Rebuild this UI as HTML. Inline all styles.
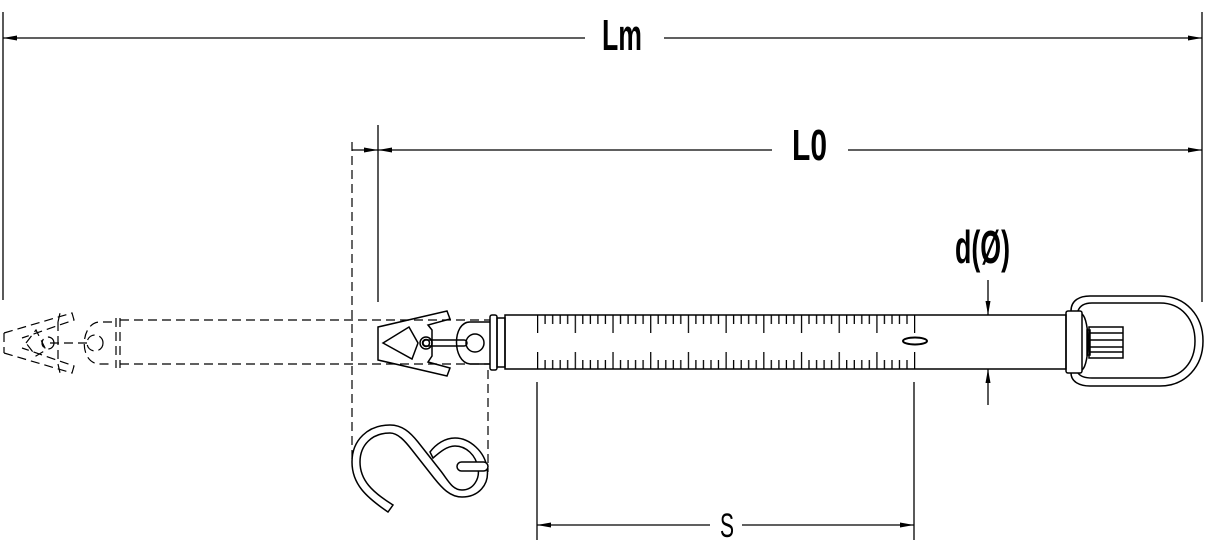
<!DOCTYPE html>
<html><head><meta charset="utf-8"><style>
html,body{margin:0;padding:0;background:#fff;}
svg{display:block}
text{font-family:"Liberation Sans Narrow","Liberation Sans",sans-serif;}
</style></head><body>
<svg width="1210" height="548" viewBox="0 0 1210 548" xmlns="http://www.w3.org/2000/svg">
<defs>
<pattern id="tt" x="537" y="0" width="37.7" height="548" patternUnits="userSpaceOnUse">
<g stroke="#000" stroke-width="1.3">
<line x1="0.6" y1="315" x2="0.6" y2="333"/>
<line x1="8.1" y1="315" x2="8.1" y2="324"/>
<line x1="15.7" y1="315" x2="15.7" y2="324"/>
<line x1="23.2" y1="315" x2="23.2" y2="324"/>
<line x1="30.7" y1="315" x2="30.7" y2="324"/>
<line x1="0.6" y1="369" x2="0.6" y2="352"/>
<line x1="8.1" y1="369" x2="8.1" y2="360"/>
<line x1="15.7" y1="369" x2="15.7" y2="360"/>
<line x1="23.2" y1="369" x2="23.2" y2="360"/>
<line x1="30.7" y1="369" x2="30.7" y2="360"/>
</g>
</pattern>
</defs>
<g fill="none" stroke="#000" stroke-width="1.3">
<line x1="3" y1="12" x2="3" y2="300"/>
<line x1="1202" y1="12" x2="1202" y2="302"/>
<line x1="378" y1="125" x2="378" y2="302"/>
<line x1="3" y1="38" x2="585" y2="38"/>
<line x1="664" y1="38" x2="1202" y2="38"/>
<line x1="352" y1="150" x2="772" y2="150"/>
<line x1="848" y1="150" x2="1202" y2="150"/>
<line x1="537" y1="382" x2="537" y2="540"/>
<line x1="914" y1="382" x2="914" y2="540"/>
<line x1="537" y1="525" x2="710" y2="525"/>
<line x1="742" y1="525" x2="914" y2="525"/>
<line x1="988" y1="280" x2="988" y2="315"/>
<line x1="988" y1="369" x2="988" y2="405"/>
</g>
<g fill="#000">
<polygon points="3,38 17,35.5 17,40.5"/>
<polygon points="1202,38 1188,35.5 1188,40.5"/>
<polygon points="378,150 392,147.5 392,152.5"/>
<polygon points="378,150 364,147.5 364,152.5"/>
<polygon points="1202,150 1188,147.5 1188,152.5"/>
<polygon points="537,525 551,522.5 551,527.5"/>
<polygon points="914,525 900,522.5 900,527.5"/>
<polygon points="988,315 985.5,301 990.5,301"/>
<polygon points="988,369 985.5,383 990.5,383"/>
</g>
<text x="602" y="50" font-size="44" font-weight="bold" textLength="40" lengthAdjust="spacingAndGlyphs">Lm</text>
<text x="792" y="160" font-size="44" font-weight="bold" textLength="35" lengthAdjust="spacingAndGlyphs">L0</text>
<text x="955" y="263" font-size="46" font-weight="bold" textLength="55" lengthAdjust="spacingAndGlyphs">d(Ø)</text>
<text x="720" y="537" font-size="34" textLength="14" lengthAdjust="spacingAndGlyphs">S</text>

<g fill="none" stroke="#000" stroke-width="1.2" stroke-dasharray="9,5">
<line x1="120" y1="320" x2="490" y2="320"/>
<line x1="120" y1="364" x2="490" y2="364"/>
<line x1="352" y1="142" x2="352" y2="460"/>
<line x1="488" y1="370" x2="488" y2="472"/>
<path d="M4,333 L72,313 L74,320 L22,338"/>
<path d="M4,353 L72,373 L74,366 L22,348"/>
<path d="M4,333 L4,353"/>
<path d="M26,343 L36,330 L46,350 L36,356 Z"/>
<circle cx="48" cy="343" r="6"/>
<line x1="50" y1="343" x2="92" y2="343"/>
<path d="M112,322 L100,322 C80,322 78,364 100,364 L112,364"/>
<circle cx="95" cy="343" r="8"/>
<path d="M116,318 L116,368 M120,318 L120,368"/>
<path d="M58,322 L60,313 M58,364 L60,373 M58,322 L58,364"/>
</g>

<g fill="none" stroke="#000" stroke-width="1.5">
<rect x="505" y="315" width="561" height="54"/>
<rect x="490" y="315" width="7" height="55" rx="2"/>
<rect x="497" y="318" width="8" height="49"/>
<ellipse cx="915" cy="341" rx="12" ry="3.5" stroke-width="2"/>
<rect x="1066" y="311" width="16" height="62" rx="2"/>
<path d="M1082,314 C1090,320 1090,364 1082,370"/>
<rect x="1089" y="327" width="34" height="31"/>
<rect x="1087" y="330" width="3" height="25"/>
<line x1="1090" y1="333" x2="1123" y2="333"/>
<line x1="1090" y1="340" x2="1123" y2="340"/>
<line x1="1090" y1="347" x2="1123" y2="347"/>
<line x1="1090" y1="352" x2="1123" y2="352"/>
<path d="M1071,311 C1071,300 1080,296 1090,296 L1160,296 C1186,296 1203,316 1203,341 C1203,366 1186,386 1160,386 L1090,386 C1080,386 1071,382 1071,373"/>
<path d="M1078,311 C1080,305 1085,303 1092,303 L1160,303 C1182,303 1195,320 1195,341 C1195,362 1182,378 1160,378 L1092,378 C1085,378 1080,376 1078,373"/>
<path d="M490,322 L470,322 C452,322 452,362 470,364 L490,364"/>
<circle cx="475" cy="343" r="9"/>
<rect x="423" y="340" width="44" height="6" rx="3"/>
<circle cx="426" cy="343" r="6"/>
<circle cx="426" cy="343" r="3.5"/>
<path d="M378,327 L447,311 L450,319 L428,325 L432,330 L432,356 L428,362 L450,368 L447,376 L378,360 Z"/>
<path d="M383,343 L409,327 L418,343 L412,359 Z"/>
<!-- S hook -->
<path d="M388,512 C366,497 352,484 352,462 C352,440 368,425 390,425 C402,425 410,432 418,442 L440,470 C448,480 452,490 462,490 C474,490 480,478 478,468 C476,455 466,446 455,446 C447,446 440,452 433,458 L430,452 C436,444 445,438 455,438 C470,438 485,452 487,468 C490,485 478,497 462,497 C450,497 442,488 434,478 L412,450 C405,441 398,433 390,433 C372,433 360,445 360,462 C360,480 372,492 393,505 Z"/>
<rect x="457" y="462" width="31" height="9" rx="4.5" fill="#fff"/>
</g>
<rect x="536" y="314" width="381" height="56" fill="url(#tt)"/>
</svg>
</body></html>
